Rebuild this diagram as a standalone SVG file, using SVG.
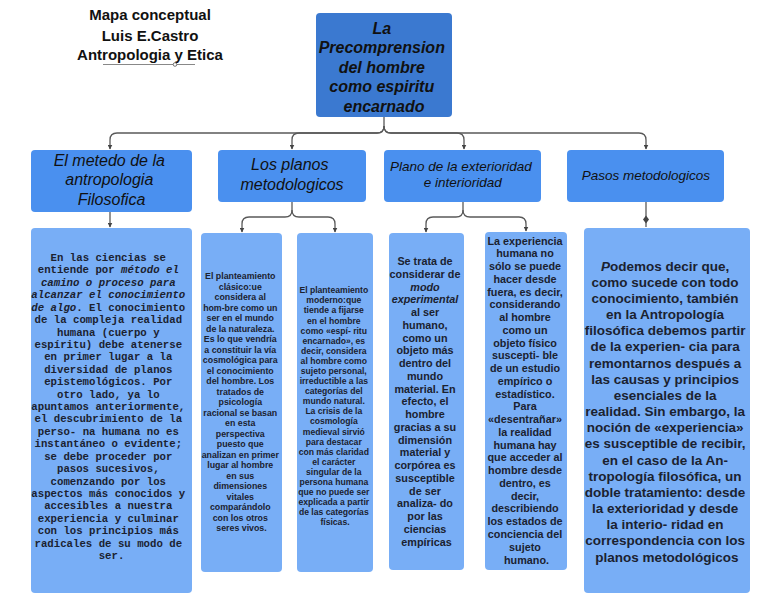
<svg xmlns="http://www.w3.org/2000/svg" width="768" height="594" viewBox="0 0 768 594">
<style>
.root{fill:#3b79d0}
.l2{fill:#4a90ef}
.l3{fill:#78aef6}
.t{font-family:"Liberation Sans",Arial,sans-serif;fill:#111;text-anchor:middle}
.b{font-weight:bold}
.i{font-style:italic}
.dk{fill:#1b2230}
.mono{font-family:"Liberation Mono","Courier New",monospace;font-weight:bold;fill:#1b2230;text-anchor:middle;font-size:10.7px}
.c{fill:none;stroke:#5a5a5a;stroke-width:1.3}
</style>
<defs>
<marker id="ar" viewBox="0 0 10 10" refX="9" refY="5" markerWidth="5" markerHeight="5" markerUnits="userSpaceOnUse" orient="auto">
<path d="M0,0 L10,5 L0,10 z" fill="#444"/>
</marker>
</defs>
<rect width="768" height="594" fill="#fff"/>

<g id="title">
<text class="t b" font-size="15" x="150" y="20">Mapa conceptual</text>
<text class="t b" font-size="15" x="150" y="41">Luis E.Castro</text>
<text class="t b" font-size="15" x="150" y="60">Antropologia y Etica</text>
<line x1="103" y1="64.5" x2="195" y2="64.5" stroke="#888" stroke-width="1"/>
<circle cx="175" cy="64.5" r="1.8" fill="#fff" stroke="#555" stroke-width="0.8"/>
</g>

<g id="connectors">
<path class="c" d="M384,117 V126 Q384,133 377,133 H117 Q110,133 110,140 V149" marker-end="url(#ar)"/>
<path class="c" d="M384,126 Q384,133 377,133 H299 Q292,133 292,140 V149" marker-end="url(#ar)"/>
<path class="c" d="M384,126 Q384,133 391,133 H457 Q464,133 464,140 V149" marker-end="url(#ar)"/>
<path class="c" d="M384,126 Q384,133 391,133 H639 Q646,133 646,140 V149" marker-end="url(#ar)"/>
<path class="c" d="M110,212 V227" marker-end="url(#ar)"/>
<path class="c" d="M292,202 V210 Q292,217 285,217 H249 Q242,217 242,224 V232" marker-end="url(#ar)"/>
<path class="c" d="M292,210 Q292,217 299,217 H328 Q335,217 335,224 V232" marker-end="url(#ar)"/>
<path class="c" d="M463,202 V210 Q463,217 456,217 H433 Q426,217 426,224 V232" marker-end="url(#ar)"/>
<path class="c" d="M463,210 Q463,217 470,217 H519 Q526,217 526,224 V231" marker-end="url(#ar)"/>
<path class="c" d="M646,202 V227"/>
<path d="M646,215.5 L649,219.5 L646,223.5 L643,219.5 z" fill="#444"/>
</g>

<g id="root">
<rect class="root" x="316" y="13" width="136" height="104" rx="4"/>
<text class="t b i" font-size="16">
<tspan x="384" y="33.5">La</tspan>
<tspan x="384" y="53">Precomprension</tspan>
<tspan x="384" y="72.5">del hombre</tspan>
<tspan x="384" y="92">como espiritu</tspan>
<tspan x="384" y="111.5">encarnado</tspan>
</text>
</g>

<g id="n1">
<rect class="l2" x="31" y="150" width="161" height="62" rx="4"/>
<text class="t i" font-size="16">
<tspan x="111.5" y="165.5">El metedo de la</tspan>
<tspan x="111.5" y="185.2">antropologia</tspan>
<tspan x="111.5" y="204.9">Filosofica</tspan>
</text>
</g>

<g id="n2">
<rect class="l2" x="218" y="150" width="148" height="52" rx="4"/>
<text class="t i" font-size="16">
<tspan x="292" y="170">Los planos</tspan>
<tspan x="292" y="190">metodologicos</tspan>
</text>
</g>

<g id="n3">
<rect class="l2" x="384" y="150" width="157" height="52" rx="4"/>
<text class="t i" font-size="13.5">
<tspan x="462.8" y="170.5">Plano de la exterioridad</tspan>
<tspan x="462.8" y="187">e interioridad</tspan>
</text>
</g>

<g id="n4">
<rect class="l2" x="567" y="150" width="157" height="52" rx="4"/>
<text class="t i" font-size="13.5" x="645.8" y="180">Pasos metodologicos</text>
</g>

<g id="nA">
<rect class="l3" x="31" y="228" width="161" height="365" rx="4"/>
<text class="mono">
<tspan x="111.5" y="261">En las ciencias se</tspan>
<tspan x="111.5" dy="12.42">entiende por <tspan font-style="italic">método el</tspan></tspan>
<tspan x="111.5" dy="12.42" font-style="italic">camino o proceso para</tspan>
<tspan x="111.5" dy="12.42" font-style="italic">alcanzar el conocimiento</tspan>
<tspan x="111.5" dy="12.42"><tspan font-style="italic">de algo</tspan>. El conocimiento</tspan>
<tspan x="111.5" dy="12.42">de la compleja realidad</tspan>
<tspan x="111.5" dy="12.42">humana (cuerpo y</tspan>
<tspan x="111.5" dy="12.42">espíritu) debe atenerse</tspan>
<tspan x="111.5" dy="12.42">en primer lugar a la</tspan>
<tspan x="111.5" dy="12.42">diversidad de planos</tspan>
<tspan x="111.5" dy="12.42">epistemológicos. Por</tspan>
<tspan x="111.5" dy="12.42">otro lado, ya lo</tspan>
<tspan x="111.5" dy="12.42">apuntamos anteriormente,</tspan>
<tspan x="111.5" dy="12.42">el descubrimiento de la</tspan>
<tspan x="111.5" dy="12.42">perso- na humana no es</tspan>
<tspan x="111.5" dy="12.42">instantáneo o evidente;</tspan>
<tspan x="111.5" dy="12.42">se debe proceder por</tspan>
<tspan x="111.5" dy="12.42">pasos sucesivos,</tspan>
<tspan x="111.5" dy="12.42">comenzando por los</tspan>
<tspan x="111.5" dy="12.42">aspectos más conocidos y</tspan>
<tspan x="111.5" dy="12.42">accesibles a nuestra</tspan>
<tspan x="111.5" dy="12.42">experiencia y culminar</tspan>
<tspan x="111.5" dy="12.42">con los principios más</tspan>
<tspan x="111.5" dy="12.42">radicales de su modo de</tspan>
<tspan x="111.5" dy="12.42">ser.</tspan>
</text>
</g>

<g id="nB">
<rect class="l3" x="201" y="233" width="81" height="339" rx="4"/>
<text class="t b dk" font-size="8.8">
<tspan x="241.5" y="279">El planteamiento</tspan>
<tspan x="241.5" dy="10.52">clásico:ue</tspan>
<tspan x="241.5" dy="10.52">considera al</tspan>
<tspan x="241.5" dy="10.52">hom-bre como un</tspan>
<tspan x="241.5" dy="10.52">ser en el mundo</tspan>
<tspan x="241.5" dy="10.52">de la naturaleza.</tspan>
<tspan x="241.5" dy="10.52">Es lo que vendría</tspan>
<tspan x="241.5" dy="10.52">a constituir la vía</tspan>
<tspan x="241.5" dy="10.52">cosmológica para</tspan>
<tspan x="241.5" dy="10.52">el conocimiento</tspan>
<tspan x="241.5" dy="10.52">del hombre. Los</tspan>
<tspan x="241.5" dy="10.52">tratados de</tspan>
<tspan x="241.5" dy="10.52">psicología</tspan>
<tspan x="241.5" dy="10.52">racional se basan</tspan>
<tspan x="241.5" dy="10.52">en esta</tspan>
<tspan x="241.5" dy="10.52">perspectiva</tspan>
<tspan x="241.5" dy="10.52">puesto que</tspan>
<tspan x="241.5" dy="10.52">analizan en primer</tspan>
<tspan x="241.5" dy="10.52">lugar al hombre</tspan>
<tspan x="241.5" dy="10.52">en sus</tspan>
<tspan x="241.5" dy="10.52">dimensiones</tspan>
<tspan x="241.5" dy="10.52">vitales</tspan>
<tspan x="241.5" dy="10.52">comparándolo</tspan>
<tspan x="241.5" dy="10.52">con los otros</tspan>
<tspan x="241.5" dy="10.52">seres vivos.</tspan>
</text>
</g>

<g id="nC">
<rect class="l3" x="297" y="233" width="76" height="339" rx="4"/>
<text class="t b dk" font-size="8.6">
<tspan x="335" y="293.3">El planteamiento</tspan>
<tspan x="335" dy="10.09">moderno:que</tspan>
<tspan x="335" dy="10.09">tiende a fijarse</tspan>
<tspan x="335" dy="10.09">en el hombre</tspan>
<tspan x="335" dy="10.09">como «espí- ritu</tspan>
<tspan x="335" dy="10.09">encarnado», es</tspan>
<tspan x="335" dy="10.09">decir, considera</tspan>
<tspan x="335" dy="10.09">al hombre como</tspan>
<tspan x="335" dy="10.09">sujeto personal,</tspan>
<tspan x="335" dy="10.09">irreductible a las</tspan>
<tspan x="335" dy="10.09">categorías del</tspan>
<tspan x="335" dy="10.09">mundo natural.</tspan>
<tspan x="335" dy="10.09">La crisis de la</tspan>
<tspan x="335" dy="10.09">cosmología</tspan>
<tspan x="335" dy="10.09">medieval sirvió</tspan>
<tspan x="335" dy="10.09">para destacar</tspan>
<tspan x="335" dy="10.09">con más claridad</tspan>
<tspan x="335" dy="10.09">el carácter</tspan>
<tspan x="335" dy="10.09">singular de la</tspan>
<tspan x="335" dy="10.09">persona humana</tspan>
<tspan x="335" dy="10.09">que no puede ser</tspan>
<tspan x="335" dy="10.09">explicada a partir</tspan>
<tspan x="335" dy="10.09">de las categorías</tspan>
<tspan x="335" dy="10.09">físicas.</tspan>
</text>
</g>

<g id="nD">
<rect class="l3" x="389" y="233" width="75" height="337" rx="4"/>
<text class="t b dk" font-size="10.8">
<tspan x="426.5" y="265">Se trata de</tspan>
<tspan x="426.5" dy="12.76">considerar de</tspan>
<tspan x="426.5" dy="12.76" font-style="italic">modo</tspan>
<tspan x="426.5" dy="12.76" font-style="italic">experimental</tspan>
<tspan x="426.5" dy="12.76">al ser</tspan>
<tspan x="426.5" dy="12.76">humano,</tspan>
<tspan x="426.5" dy="12.76">como un</tspan>
<tspan x="426.5" dy="12.76">objeto más</tspan>
<tspan x="426.5" dy="12.76">dentro del</tspan>
<tspan x="426.5" dy="12.76">mundo</tspan>
<tspan x="426.5" dy="12.76">material. En</tspan>
<tspan x="426.5" dy="12.76">efecto, el</tspan>
<tspan x="426.5" dy="12.76">hombre</tspan>
<tspan x="426.5" dy="12.76">gracias a su</tspan>
<tspan x="426.5" dy="12.76">dimensión</tspan>
<tspan x="426.5" dy="12.76">material y</tspan>
<tspan x="426.5" dy="12.76">corpórea es</tspan>
<tspan x="426.5" dy="12.76">susceptible</tspan>
<tspan x="426.5" dy="12.76">de ser</tspan>
<tspan x="426.5" dy="12.76">analiza- do</tspan>
<tspan x="426.5" dy="12.76">por las</tspan>
<tspan x="426.5" dy="12.76">ciencias</tspan>
<tspan x="426.5" dy="12.76">empíricas</tspan>
</text>
</g>

<g id="nE">
<rect class="l3" x="485" y="232" width="82" height="338" rx="4"/>
<text class="t b dk" font-size="10.8">
<tspan x="526.5" y="244.5">La experiencia</tspan>
<tspan x="526.5" dy="12.76">humana no</tspan>
<tspan x="526.5" dy="12.76">sólo se puede</tspan>
<tspan x="526.5" dy="12.76">hacer desde</tspan>
<tspan x="526.5" dy="12.76">fuera, es decir,</tspan>
<tspan x="526.5" dy="12.76">considerando</tspan>
<tspan x="526.5" dy="12.76">al hombre</tspan>
<tspan x="526.5" dy="12.76">como un</tspan>
<tspan x="526.5" dy="12.76">objeto físico</tspan>
<tspan x="526.5" dy="12.76">suscepti- ble</tspan>
<tspan x="526.5" dy="12.76">de un estudio</tspan>
<tspan x="526.5" dy="12.76">empírico o</tspan>
<tspan x="526.5" dy="12.76">estadístico.</tspan>
<tspan x="526.5" dy="12.76">Para</tspan>
<tspan x="526.5" dy="12.76">«desentrañar»</tspan>
<tspan x="526.5" dy="12.76">la realidad</tspan>
<tspan x="526.5" dy="12.76">humana hay</tspan>
<tspan x="526.5" dy="12.76">que acceder al</tspan>
<tspan x="526.5" dy="12.76">hombre desde</tspan>
<tspan x="526.5" dy="12.76">dentro, es</tspan>
<tspan x="526.5" dy="12.76">decir,</tspan>
<tspan x="526.5" dy="12.76">describiendo</tspan>
<tspan x="526.5" dy="12.76">los estados de</tspan>
<tspan x="526.5" dy="12.76">conciencia del</tspan>
<tspan x="526.5" dy="12.76">sujeto</tspan>
<tspan x="526.5" dy="12.76">humano.</tspan>
</text>
</g>

<g id="nF">
<rect class="l3" x="584" y="228" width="166" height="365" rx="4"/>
<text class="t b dk" font-size="13.5">
<tspan x="667" y="270.5"><tspan font-style="italic">P</tspan>odemos decir que,</tspan>
<tspan x="667" dy="16.17">como sucede con todo</tspan>
<tspan x="667" dy="16.17">conocimiento, también</tspan>
<tspan x="667" dy="16.17">en la Antropología</tspan>
<tspan x="667" dy="16.17">filosófica debemos partir</tspan>
<tspan x="667" dy="16.17">de la experien- cia para</tspan>
<tspan x="667" dy="16.17">remontarnos después a</tspan>
<tspan x="667" dy="16.17">las causas y principios</tspan>
<tspan x="667" dy="16.17">esenciales de la</tspan>
<tspan x="667" dy="16.17">realidad. Sin embargo, la</tspan>
<tspan x="667" dy="16.17">noción de «experiencia»</tspan>
<tspan x="667" dy="16.17">es susceptible de recibir,</tspan>
<tspan x="667" dy="16.17">en el caso de la An-</tspan>
<tspan x="667" dy="16.17">tropología filosófica, un</tspan>
<tspan x="667" dy="16.17">doble tratamiento: desde</tspan>
<tspan x="667" dy="16.17">la exterioridad y desde</tspan>
<tspan x="667" dy="16.17">la interio- ridad en</tspan>
<tspan x="667" dy="16.17">correspondencia con los</tspan>
<tspan x="667" dy="16.17">planos metodológicos</tspan>
</text>
</g>
</svg>
